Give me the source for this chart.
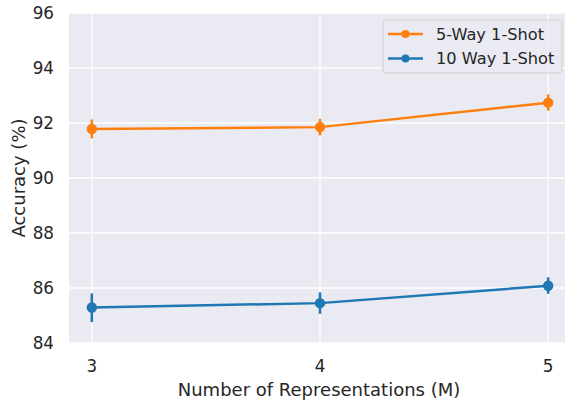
<!DOCTYPE html>
<html>
<head>
<meta charset="utf-8">
<script src="https://cdn.jsdelivr.net/npm/d3@7"></script>
<style>
  body { margin: 0; background: #fff; }
  svg text { font-family: "DejaVu Sans", sans-serif; fill: #262626; }
</style>
</head>
<body>
<div id="chart"></div>
<script>
// chart data
const categories = ["3", "4", "5"];
const yTicks = [84, 86, 88, 90, 92, 94, 96];
const seriesNames = ["5-Way 1-Shot", "10 Way 1-Shot"];
const fiveWayMean = [91.78, 91.85, 92.74];
const fiveWayLow = [91.44, 91.55, 92.45];
const fiveWayHigh = [92.13, 92.15, 93.04];
const tenWayMean = [85.29, 85.45, 86.08];
const tenWayLow = [84.76, 85.06, 85.79];
const tenWayHigh = [85.8, 85.84, 86.39];

document.addEventListener("DOMContentLoaded", function () {
  const width = 565;
  const height = 401;
  const margin = { top: 13, right: -6, bottom: 58, left: 69 };
  const colors = ["#ff7f0e", "#1f77b4"];

  const svg = d3
    .select("#chart")
    .append("svg")
    .attr("width", width)
    .attr("height", height);

  const x = d3
    .scaleLinear()
    .domain([-0.1, categories.length - 0.9])
    .range([margin.left, width - margin.right]);
  const y = d3
    .scaleLinear()
    .domain([84, 96])
    .range([height - margin.bottom, margin.top]);

  // background
  svg
    .append("rect")
    .attr("x", margin.left)
    .attr("y", margin.top)
    .attr("width", width - margin.right - margin.left)
    .attr("height", height - margin.bottom - margin.top)
    .attr("fill", "#eaeaf2");

  // grid
  svg
    .append("g")
    .selectAll("line")
    .data(yTicks)
    .join("line")
    .attr("x1", margin.left)
    .attr("x2", width - margin.right)
    .attr("y1", (d) => y(d))
    .attr("y2", (d) => y(d))
    .attr("stroke", "#fff")
    .attr("stroke-width", 1.3);
  svg
    .append("g")
    .selectAll("line")
    .data(categories)
    .join("line")
    .attr("x1", (d, i) => x(i))
    .attr("x2", (d, i) => x(i))
    .attr("y1", margin.top)
    .attr("y2", height - margin.bottom)
    .attr("stroke", "#fff")
    .attr("stroke-width", 1.3);

  // tick labels
  svg
    .append("g")
    .selectAll("text")
    .data(yTicks)
    .join("text")
    .attr("x", 54)
    .attr("y", (d) => y(d))
    .attr("dy", "0.36em")
    .attr("text-anchor", "end")
    .style("font-size", "16.8px")
    .text((d) => d);
  svg
    .append("g")
    .selectAll("text")
    .data(categories)
    .join("text")
    .attr("x", (d, i) => x(i))
    .attr("y", 372)
    .attr("text-anchor", "middle")
    .style("font-size", "16.8px")
    .text((d) => d);

  // axis titles
  svg
    .append("text")
    .attr("x", 319)
    .attr("y", 395.5)
    .attr("text-anchor", "middle")
    .style("font-size", "18px")
    .text("Number of Representations (M)");
  svg
    .append("text")
    .attr("transform", "translate(25," + (margin.top + height - margin.bottom) / 2 + ") rotate(-90)")
    .attr("text-anchor", "middle")
    .style("font-size", "18px")
    .text("Accuracy (%)");

  const series = [
    { name: seriesNames[0], mean: fiveWayMean, low: fiveWayLow, high: fiveWayHigh },
    { name: seriesNames[1], mean: tenWayMean, low: tenWayLow, high: tenWayHigh },
  ];

  const line = d3
    .line()
    .x((d, i) => x(i))
    .y((d) => y(d));

  series.forEach(function (s, k) {
    const g = svg.append("g");
    g.append("path")
      .attr("d", line(s.mean))
      .attr("fill", "none")
      .attr("stroke", colors[k])
      .attr("stroke-width", 2.5);
    g.selectAll(".err")
      .data(s.mean)
      .join("line")
      .attr("x1", (d, i) => x(i))
      .attr("x2", (d, i) => x(i))
      .attr("y1", (d, i) => y(s.low[i]))
      .attr("y2", (d, i) => y(s.high[i]))
      .attr("stroke", colors[k])
      .attr("stroke-width", 2.5);
    g.selectAll("circle")
      .data(s.mean)
      .join("circle")
      .attr("cx", (d, i) => x(i))
      .attr("cy", (d) => y(d))
      .attr("r", 5.2)
      .attr("fill", colors[k]);
  });

  // legend
  const legend = svg.append("g").attr("transform", "translate(383,20)");
  legend
    .append("rect")
    .attr("width", 179)
    .attr("height", 53)
    .attr("rx", 3)
    .attr("fill", "#eaeaf2")
    .attr("fill-opacity", 0.8)
    .attr("stroke", "#d0d0d0")
    .attr("stroke-width", 1);
  const items = legend
    .selectAll(".item")
    .data(seriesNames)
    .join("g")
    .attr("transform", (d, i) => "translate(0," + (14 + i * 24.5) + ")");
  items
    .append("line")
    .attr("x1", 5)
    .attr("x2", 40)
    .attr("stroke", (d, i) => colors[i])
    .attr("stroke-width", 2.5);
  items
    .append("circle")
    .attr("cx", 22.5)
    .attr("r", 4)
    .attr("fill", (d, i) => colors[i]);
  items
    .append("text")
    .attr("x", 53)
    .attr("dy", "0.36em")
    .style("font-size", "16.2px")
    .text((d) => d);
});
</script>
</body>
</html>
